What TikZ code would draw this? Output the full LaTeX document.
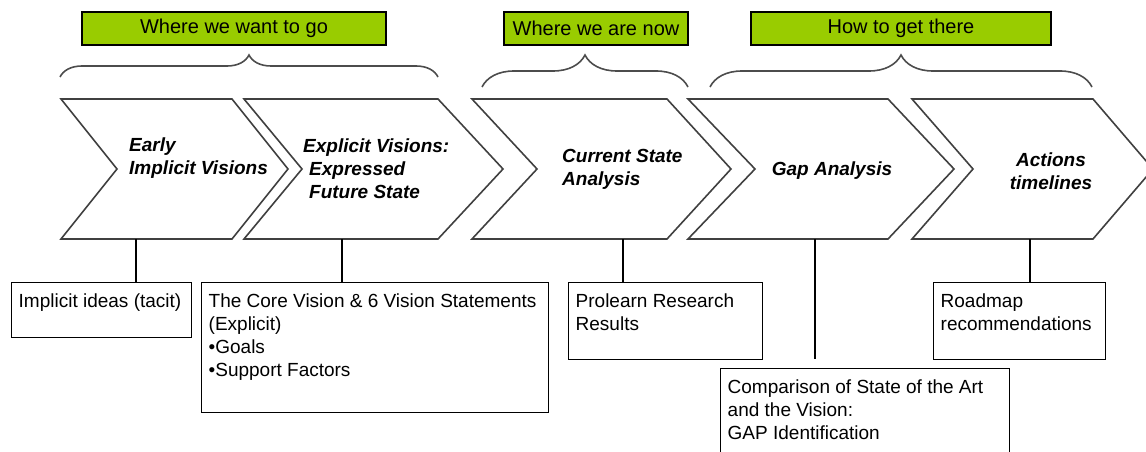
\documentclass[tikz,border=0pt]{standalone}
\usepackage{fontspec}
\setmainfont{Liberation Sans}
\usetikzlibrary{decorations.pathreplacing}

\definecolor{headgreen}{HTML}{99CC00}
\newcommand{\notetext}[3]{\parbox[c][#2][t]{#1}{\raggedright\rule{0pt}{25pt}#3}}

\tikzset{
  header/.style={draw=black, line width=1.4pt, fill=headgreen, minimum height=33pt, inner sep=0pt, font=\fontsize{20}{24}\selectfont},
  chevron/.style={draw=black!75, line width=1.6pt, line join=miter},
  stage/.style={font=\fontsize{19}{23}\selectfont\bfseries\itshape, align=left, inner sep=0pt},
  note/.style={draw=black, line width=1.4pt, anchor=north west, inner xsep=7pt, inner ysep=0pt, font=\fontsize{19}{23}\selectfont},
  phase/.style={decorate, decoration={brace, amplitude=#1}, draw=black!70, line width=1.6pt},
  link/.style={line width=1.4pt}
}

\begin{document}
\begin{tikzpicture}[x=1pt, y=-1pt]
\useasboundingbox (0,0) rectangle (1146,452);
\clip (0,0) rectangle (1146,452);

% headings
\node[header, minimum width=304pt] (want) at (234,28.5) {Where we want to go};
\node[header, minimum width=184pt] (now) at (596,28.5) {Where we are now};
\node[header, minimum width=300pt] (how) at (901,28.5) {How to get there};

\draw[phase=22pt] (60,77) -- (438,77);
\draw[phase=32pt] (482,87) -- (688,87);
\draw[phase=32pt] (710,87) -- (1092,87);

% chevrons
\foreach \l/\r/\n/\d in {61/232/56/56, 244/438/58/65, 472/667/65/64, 688/888/67/66, 912/1093/61/60}
  \draw[chevron] (\l,99) -- (\r,99) -- ({\r+\d},169) -- (\r,239) -- (\l,239) -- ({\l+\n},169) -- cycle;

\node[stage, anchor=west] (early) at (129,158) {Early\\Implicit Visions};
\node[stage, anchor=west] (explicit) at (303,169) {Explicit Visions:\\\hspace{6pt}Expressed\\\hspace{6pt}Future State};
\node[stage, anchor=west] (current) at (562,169) {Current State\\Analysis};
\node[stage] (gap) at (832,171) {Gap Analysis};
\node[stage, align=center] (actions) at (1051,171) {Actions\\timelines};

\coordinate (c1foot) at (136,239);
\coordinate (c2foot) at (342,239);
\coordinate (c3foot) at (623,239);
\coordinate (c4foot) at (815,239);
\coordinate (c5foot) at (1030,239);
\coordinate (c4end) at (815,359);

% notes
\node[note] (implicit) at (11,282) {\notetext{166pt}{55pt}{Implicit ideas (tacit)}};
\node[note] (core) at (201,282) {\notetext{333pt}{130pt}{The Core Vision \& 6 Vision Statements\\(Explicit)\\•Goals\\•Support Factors}};
\node[note] (prolearn) at (568,282) {\notetext{180pt}{77pt}{Prolearn Research\\Results}};
\node[note] (roadmap) at (933,282) {\notetext{158pt}{77pt}{Roadmap\\recommendations}};
\node[note] (compare) at (720,368) {\notetext{275pt}{110pt}{Comparison of State of the Art\\and the Vision:\\GAP Identification}};

\draw[link] (c1foot) -- (c1foot |- implicit.north);
\draw[link] (c2foot) -- (c2foot |- core.north);
\draw[link] (c3foot) -- (c3foot |- prolearn.north);
\draw[link] (c4foot) -- (c4end);
\draw[link] (c5foot) -- (c5foot |- roadmap.north);

\end{tikzpicture}
\end{document}
